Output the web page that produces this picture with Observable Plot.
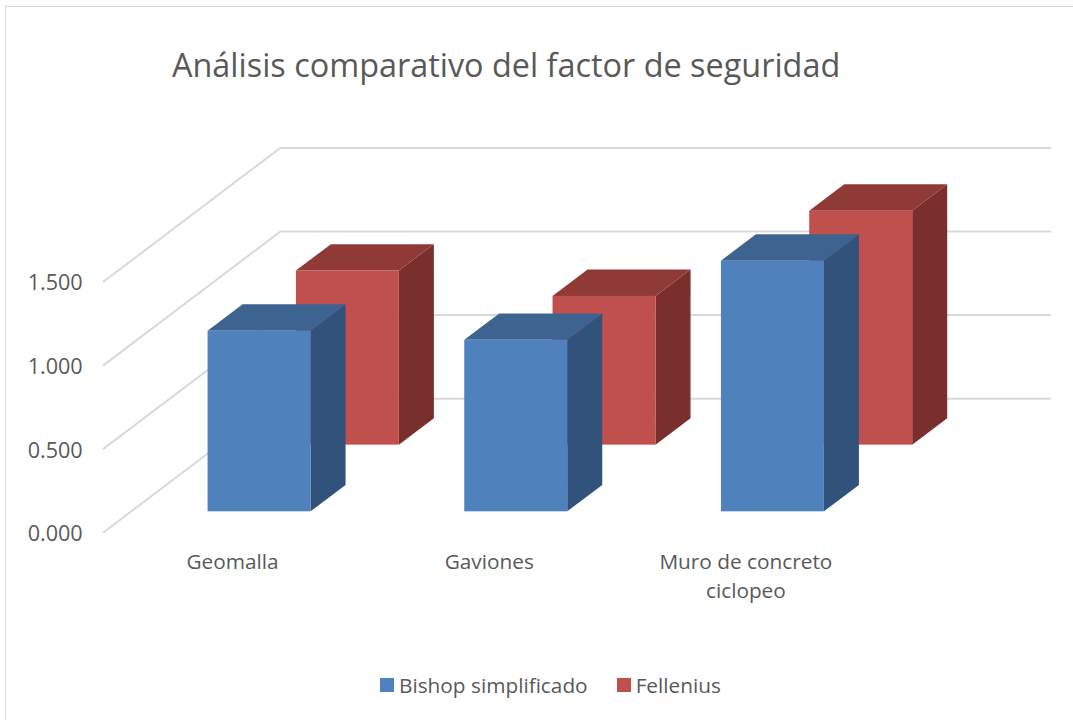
<!DOCTYPE html>
<html lang="es">
<head>
<meta charset="utf-8">
<script src="https://cdn.jsdelivr.net/npm/d3@7"></script>
<script src="https://cdn.jsdelivr.net/npm/@observablehq/plot@0.6"></script>
<style>
  html, body { margin: 0; padding: 0; background: #fff; overflow: hidden; }
  body { width: 1073px; height: 720px; position: relative; font-family: "Open Sans", sans-serif; color: #595959; }
  #frame { position: absolute; left: 5px; top: 6px; right: 0; bottom: 0; border-left: 1.5px solid #d9d9d9; border-top: 1.5px solid #d9d9d9; pointer-events: none; }
  #title { height: 120px; box-sizing: border-box; padding: 41px 0 0 172px; font-size: 32.4px; line-height: 46px; white-space: nowrap; }
  #chart svg { display: block; }
  #legend { position: absolute; top: 671px; left: 380px; height: 28px; display: flex; align-items: center; font-size: 20.8px; white-space: nowrap; }
  #legend .sw { width: 14px; height: 14px; margin-right: 5px; }
  #legend .item { display: flex; align-items: center; margin-right: 29px; }
</style>
</head>
<body>
<div id="frame"></div>
<div id="title">Análisis comparativo del factor de seguridad</div>
<div id="chart"></div>
<div id="legend"></div>
<script>
const categories = ["Geomalla", "Gaviones", "Muro de concreto ciclopeo"];
const seriesNames = ["Bishop simplificado", "Fellenius"];
const bishop = [1.081, 1.026, 1.5];
const fellenius = [1.042, 0.89, 1.4];
const ticks = [0, 0.5, 1, 1.5];

// 3D look: oblique offsets expressed in the scales' own units
const wallX = 0.688, wallY = 0.799;           // depth of the chart's wall
const barW = 0.4012, barDX = 0.1364, barDY = 0.1575; // bar width and bar depth
const looks = [
  {name: seriesNames[0], values: bishop,    left: 0.4067, base: 0.122, front: "#4f81bd", side: "#30527b", top: "#3d6391"},
  {name: seriesNames[1], values: fellenius, left: 0.7507, base: 0.521, front: "#c0504d", side: "#7a2f2d", top: "#903a38"}
];
const fontSize = 20.8, ink = "#595959";

const gridRows = ticks.flatMap(v => [
  {v, x: 0, y: v},
  {v, x: wallX, y: v + wallY},
  {v, x: categories.length + wallX, y: v + wallY}
]);

const barMarks = [...looks].reverse().flatMap(s => {
  const bars = s.values.map((value, i) => {
    const x1 = i + s.left, x2 = x1 + barW, y1 = s.base, y2 = s.base + value;
    return {i, x1, x2, y1, y2};
  });
  const sides = bars.flatMap(b => [
    {id: b.i, x: b.x2, b: b.y1, t: b.y2},
    {id: b.i, x: b.x2 + barDX, b: b.y1 + barDY, t: b.y2 + barDY}
  ]);
  const tops = bars.flatMap(b => [
    {id: b.i, y: b.y2, x1: b.x1, x2: b.x2},
    {id: b.i, y: b.y2 + barDY, x1: b.x1 + barDX, x2: b.x2 + barDX}
  ]);
  return [
    Plot.areaY(sides, {x: "x", y1: "b", y2: "t", z: "id", fill: s.side}),
    Plot.areaX(tops, {y: "y", x1: "x1", x2: "x2", z: "id", fill: s.top}),
    Plot.rect(bars, {x1: "x1", x2: "x2", y1: "y1", y2: "y2", fill: s.front})
  ];
});

const plot = Plot.plot({
  width: 1073,
  height: 520,
  margin: 0,
  style: {background: "transparent", fontFamily: '"Open Sans", sans-serif'},
  x: {domain: [0, categories.length + wallX], range: [103.2, 1049.8], axis: null},
  y: {domain: [0, 1.5 + wallY], range: [411.7, 27.5], axis: null},
  marks: [
    Plot.line(gridRows, {x: "x", y: "y", z: "v", stroke: "#d9d9d9", strokeWidth: 2}),
    ...barMarks,
    Plot.text(ticks, {
      x: 0, y: d => d, text: d => d3.format(".3f")(d),
      textAnchor: "end", dx: -21, dy: 2, fontSize: 21.6, fill: ink
    }),
    Plot.text(categories, {
      x: (d, i) => i + 0.5, y: 0, text: d => d,
      lineWidth: 9.5, lineHeight: 1.4, lineAnchor: "top", textAnchor: "middle",
      dx: 0.5, dy: 16, fontSize, fill: ink
    })
  ]
});
document.getElementById("chart").append(plot);

const legend = document.getElementById("legend");
looks.forEach(s => {
  const item = document.createElement("div");
  item.className = "item";
  const sw = document.createElement("span");
  sw.className = "sw";
  sw.style.background = s.front;
  const label = document.createElement("span");
  label.textContent = s.name;
  item.append(sw, label);
  legend.append(item);
});
</script>
</body>
</html>
